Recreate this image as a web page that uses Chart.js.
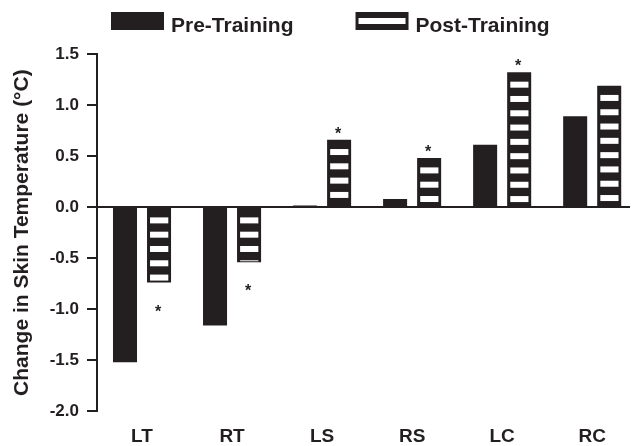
<!DOCTYPE html>
<html>
<head>
<meta charset="utf-8">
<script src="https://cdn.jsdelivr.net/npm/chart.js@4.4.1/dist/chart.umd.min.js"></script>
<style>
  html, body { margin: 0; padding: 0; background: #fff; overflow: hidden; }
  #wrap { width: 632px; height: 446px; }
</style>
</head>
<body>
<div id="wrap"><canvas id="c" width="632" height="446"></canvas></div>
<script>
// Skin temperature change per site, before and after training
const categories = ['LT', 'RT', 'LS', 'RS', 'LC', 'RC'];
const preTraining = [-1.52, -1.16, 0.015, 0.08, 0.61, 0.89];
const postTraining = [-0.74, -0.54, 0.66, 0.48, 1.32, 1.19];
const postSignificant = [true, true, true, true, true, false];
const yTicks = [-2.0, -1.5, -1.0, -0.5, 0.0, 0.5, 1.0, 1.5];
const seriesNames = ['Pre-Training', 'Post-Training'];

const INK = '#231f20';
const FONT = "'Liberation Sans', Arial, Helvetica, sans-serif";

// White horizontal bands inside the post-training bars, counted from each bar's top edge
const stripePlugin = {
  id: 'stripes',
  afterDatasetsDraw(chart) {
    const meta = chart.getDatasetMeta(1);
    const ctx = chart.ctx;
    meta.data.forEach(bar => {
      const { x, y, base, width } = bar.getProps(['x', 'y', 'base', 'width'], true);
      const top = Math.min(y, base), bottom = Math.max(y, base);
      const left = x - width / 2 + 3, right = x + width / 2 - 2.5;
      ctx.save();
      ctx.beginPath();
      ctx.rect(left, top + 1, right - left, bottom - top - 2);
      ctx.clip();
      ctx.fillStyle = '#fff';
      for (let s = top + 9.3; s < bottom; s += 14.3) {
        ctx.fillRect(left, s, right - left, 6);
      }
      ctx.restore();
    });
  }
};

// Significance asterisks above (or below) post-training bars
const starPlugin = {
  id: 'stars',
  afterDatasetsDraw(chart) {
    const meta = chart.getDatasetMeta(1);
    const ctx = chart.ctx;
    ctx.save();
    ctx.font = 'bold 16px ' + FONT;
    ctx.fillStyle = INK;
    ctx.textAlign = 'center';
    ctx.textBaseline = 'alphabetic';
    meta.data.forEach((bar, i) => {
      if (!postSignificant[i]) return;
      const { x, y } = bar.getProps(['x', 'y'], true);
      const by = postTraining[i] >= 0 ? y - 1 : y + 34;
      ctx.fillText('*', x - 1, by);
    });
    ctx.restore();
  }
};

// Key row across the top
const keyPlugin = {
  id: 'keyRow',
  afterDraw(chart) {
    const ctx = chart.ctx;
    ctx.save();
    ctx.font = 'bold 21px ' + FONT;
    ctx.textBaseline = 'alphabetic';
    ctx.textAlign = 'left';
    const boxW = 53, boxTop = 12, boxH = 18, baseline = 32, gap = 7, itemGap = 62;
    let x = 111;
    chart.data.datasets.forEach((ds, i) => {
      ctx.fillStyle = INK;
      ctx.fillRect(x, boxTop, boxW, boxH);
      if (ds.striped) {
        ctx.fillStyle = '#fff';
        ctx.fillRect(x + 3, boxTop + 6, boxW - 6, 6);
      }
      ctx.fillStyle = INK;
      ctx.fillText(ds.label, x + boxW + gap, baseline);
      x += boxW + gap + ctx.measureText(ds.label).width + itemGap;
    });
    ctx.restore();
  }
};

const barCommon = {
  backgroundColor: INK,
  borderWidth: 0,
  categoryPercentage: 0.756,
  barPercentage: 0.706
};

new Chart(document.getElementById('c'), {
  type: 'bar',
  data: {
    datasets: [
      Object.assign({ label: seriesNames[0], striped: false,
        data: preTraining.map((v, i) => ({ x: i, y: v })) }, barCommon),
      Object.assign({ label: seriesNames[1], striped: true,
        data: postTraining.map((v, i) => ({ x: i, y: v })) }, barCommon)
    ]
  },
  options: {
    responsive: false,
    animation: false,
    layout: { padding: { top: 54, right: 2, left: 0, bottom: -16 } },
    plugins: { legend: { display: false }, tooltip: { enabled: false } },
    scales: {
      x: {
        type: 'linear',
        min: -0.5,
        max: 5.42,
        offset: false,
        afterBuildTicks: s => { s.ticks = categories.map((_, i) => ({ value: i })); },
        ticks: {
          callback: v => categories[v] ?? '',
          font: { family: FONT, size: 19, weight: 'bold' },
          color: INK,
          padding: 14,
          autoSkip: false,
          maxRotation: 0
        },
        grid: { display: false, drawTicks: false },
        border: { display: false }
      },
      y: {
        min: -2,
        max: 1.5,
        afterBuildTicks: s => { s.ticks = yTicks.map(v => ({ value: v })); },
        afterFit: s => { s.width = 97; },
        ticks: {
          callback: v => Number(v).toFixed(1),
          font: { family: FONT, size: 17, weight: 'bold' },
          color: INK,
          padding: 8
        },
        grid: {
          color: c => (c.tick && c.tick.value === 0 ? INK : 'rgba(0,0,0,0)'),
          lineWidth: 2,
          tickColor: INK,
          tickLength: 10,
          tickWidth: 2
        },
        border: { display: true, color: INK, width: 2 },
        title: {
          display: true,
          text: 'Change in Skin Temperature (°C)',
          font: { family: FONT, size: 21, weight: 'bold' },
          color: INK,
          padding: { top: 10, bottom: 0 }
        }
      }
    }
  },
  plugins: [stripePlugin, starPlugin, keyPlugin]
});
</script>
</body>
</html>
